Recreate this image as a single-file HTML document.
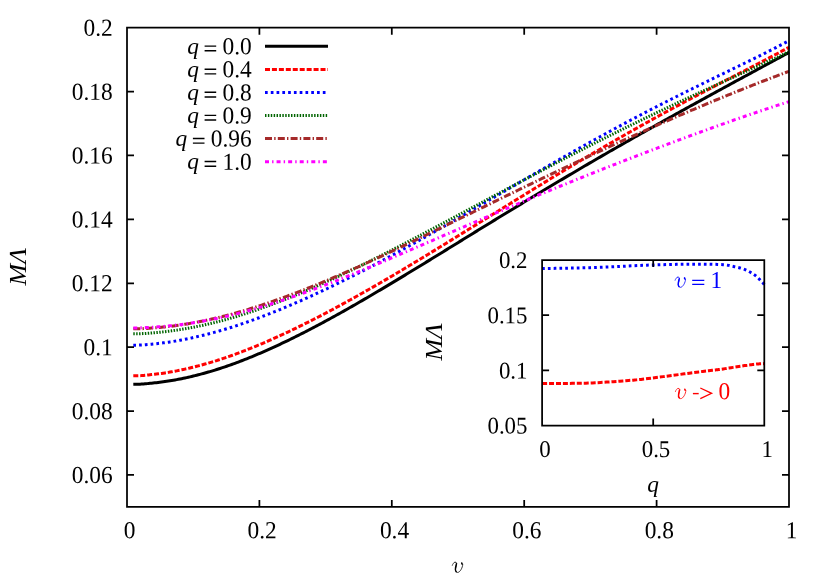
<!DOCTYPE html>
<html><head><meta charset="utf-8"><title>plot</title>
<style>html,body{margin:0;padding:0;background:#fff}svg{display:block}</style>
</head><body>
<div style="will-change:transform;width:830px;height:581px;overflow:hidden">
<svg width="830" height="581" viewBox="0 0 830 581">
<rect width="100%" height="100%" fill="#fff"/>
<g font-family="'Liberation Serif', serif" font-size="23.4" fill="#000">
<path d="M133.30,384.27 L135.34,384.26 L137.14,384.24 L138.73,384.21 L140.14,384.16 L141.43,384.10 L142.62,384.03 L143.76,383.94 L144.89,383.84 L146.04,383.74 L147.24,383.62 L148.55,383.49 L150.00,383.35 L151.55,383.20 L153.14,383.04 L154.77,382.86 L156.42,382.68 L158.10,382.48 L159.79,382.28 L161.50,382.06 L163.21,381.83 L164.92,381.59 L166.63,381.34 L168.32,381.09 L170.00,380.82 L171.67,380.54 L173.33,380.26 L175.00,379.96 L176.67,379.65 L178.33,379.33 L180.00,379.01 L181.67,378.67 L183.33,378.32 L185.00,377.97 L186.67,377.60 L188.33,377.23 L190.00,376.85 L191.67,376.46 L193.33,376.06 L195.00,375.65 L196.67,375.23 L198.33,374.80 L200.00,374.37 L201.67,373.92 L203.33,373.47 L205.00,373.00 L206.67,372.53 L208.33,372.06 L210.00,371.57 L211.67,371.08 L213.33,370.57 L215.00,370.06 L216.67,369.55 L218.33,369.02 L220.00,368.48 L221.67,367.94 L223.33,367.39 L225.00,366.83 L226.67,366.26 L228.33,365.68 L230.00,365.10 L231.67,364.51 L233.33,363.90 L235.00,363.29 L236.67,362.67 L238.33,362.04 L240.00,361.41 L241.67,360.76 L243.33,360.11 L245.00,359.46 L246.67,358.79 L248.33,358.12 L250.00,357.45 L251.67,356.77 L253.33,356.08 L255.00,355.39 L256.67,354.69 L258.33,353.98 L260.00,353.27 L261.67,352.55 L263.33,351.82 L265.00,351.09 L266.67,350.36 L268.33,349.62 L270.00,348.87 L271.67,348.12 L273.33,347.36 L275.00,346.60 L276.67,345.83 L278.33,345.05 L280.00,344.27 L281.67,343.48 L283.33,342.69 L285.00,341.90 L286.67,341.09 L288.33,340.29 L290.00,339.48 L291.67,338.67 L293.33,337.85 L295.00,337.02 L296.67,336.19 L298.33,335.36 L300.00,334.52 L301.67,333.67 L303.33,332.82 L305.00,331.97 L306.67,331.11 L308.33,330.25 L310.00,329.39 L311.67,328.52 L313.33,327.65 L315.00,326.77 L316.67,325.89 L318.33,325.01 L320.00,324.12 L321.67,323.22 L323.33,322.33 L325.00,321.43 L326.67,320.52 L328.33,319.62 L330.00,318.71 L331.67,317.80 L333.33,316.88 L335.00,315.96 L336.67,315.04 L338.33,314.11 L340.00,313.19 L341.67,312.25 L343.33,311.32 L345.00,310.38 L346.67,309.44 L348.33,308.50 L350.00,307.55 L351.67,306.60 L353.33,305.65 L355.00,304.69 L356.67,303.74 L358.33,302.78 L360.00,301.81 L361.67,300.85 L363.33,299.88 L365.00,298.91 L366.67,297.94 L368.33,296.96 L370.00,295.99 L371.67,295.01 L373.33,294.03 L375.00,293.05 L376.67,292.07 L378.33,291.08 L380.00,290.10 L381.67,289.11 L383.33,288.12 L385.00,287.12 L386.67,286.13 L388.33,285.14 L390.00,284.14 L391.67,283.14 L393.33,282.14 L395.00,281.14 L396.67,280.14 L398.33,279.13 L400.00,278.13 L401.67,277.12 L403.33,276.11 L405.00,275.10 L406.67,274.09 L408.33,273.08 L410.00,272.07 L411.67,271.06 L413.33,270.04 L415.00,269.03 L416.67,268.01 L418.33,266.99 L420.00,265.97 L421.67,264.95 L423.33,263.93 L425.00,262.91 L426.67,261.89 L428.33,260.87 L430.00,259.85 L431.67,258.83 L433.33,257.80 L435.00,256.78 L436.67,255.76 L438.33,254.73 L440.00,253.71 L441.67,252.68 L443.33,251.65 L445.00,250.63 L446.67,249.60 L448.33,248.58 L450.00,247.55 L451.67,246.52 L453.33,245.50 L455.00,244.47 L456.67,243.44 L458.33,242.42 L460.00,241.39 L461.67,240.36 L463.33,239.34 L465.00,238.31 L466.67,237.28 L468.33,236.26 L470.00,235.23 L471.67,234.20 L473.33,233.18 L475.00,232.15 L476.67,231.13 L478.33,230.10 L480.00,229.07 L481.67,228.05 L483.33,227.02 L485.00,226.00 L486.67,224.98 L488.33,223.95 L490.00,222.93 L491.67,221.91 L493.33,220.89 L495.00,219.87 L496.67,218.84 L498.33,217.82 L500.00,216.81 L501.67,215.79 L503.33,214.77 L505.00,213.75 L506.67,212.73 L508.33,211.72 L510.00,210.70 L511.67,209.68 L513.33,208.67 L515.00,207.66 L516.67,206.64 L518.33,205.63 L520.00,204.62 L521.67,203.61 L523.33,202.59 L525.00,201.58 L526.67,200.58 L528.33,199.57 L530.00,198.56 L531.67,197.55 L533.33,196.55 L535.00,195.54 L536.67,194.54 L538.33,193.54 L540.00,192.53 L541.67,191.53 L543.33,190.53 L545.00,189.53 L546.67,188.53 L548.33,187.54 L550.00,186.54 L551.67,185.54 L553.33,184.55 L555.00,183.55 L556.67,182.56 L558.33,181.57 L560.00,180.58 L561.67,179.59 L563.33,178.60 L565.00,177.61 L566.67,176.62 L568.33,175.64 L570.00,174.65 L571.67,173.67 L573.33,172.68 L575.00,171.70 L576.67,170.72 L578.33,169.74 L580.00,168.76 L581.67,167.78 L583.33,166.81 L585.00,165.83 L586.67,164.86 L588.33,163.88 L590.00,162.91 L591.67,161.94 L593.33,160.97 L595.00,160.00 L596.67,159.03 L598.33,158.06 L600.00,157.10 L601.67,156.13 L603.33,155.17 L605.00,154.20 L606.67,153.24 L608.33,152.28 L610.00,151.32 L611.67,150.36 L613.33,149.40 L615.00,148.45 L616.67,147.49 L618.33,146.54 L620.00,145.58 L621.67,144.63 L623.33,143.68 L625.00,142.73 L626.67,141.78 L628.33,140.83 L630.00,139.88 L631.67,138.93 L633.33,137.99 L635.00,137.04 L636.67,136.10 L638.33,135.15 L640.00,134.21 L641.67,133.27 L643.33,132.33 L645.00,131.39 L646.67,130.45 L648.33,129.51 L650.00,128.57 L651.67,127.63 L653.33,126.70 L655.00,125.76 L656.67,124.83 L658.33,123.89 L660.00,122.96 L661.67,122.03 L663.33,121.10 L665.00,120.17 L666.67,119.24 L668.33,118.31 L670.00,117.38 L671.67,116.45 L673.33,115.53 L675.00,114.60 L676.67,113.68 L678.33,112.75 L680.00,111.83 L681.67,110.91 L683.33,109.99 L685.00,109.07 L686.67,108.15 L688.33,107.23 L690.00,106.31 L691.67,105.39 L693.33,104.47 L695.00,103.56 L696.67,102.64 L698.33,101.72 L700.00,100.81 L701.67,99.89 L703.33,98.97 L705.00,98.06 L706.67,97.15 L708.33,96.23 L710.00,95.32 L711.67,94.41 L713.33,93.50 L715.00,92.59 L716.67,91.68 L718.33,90.77 L720.00,89.86 L721.67,88.95 L723.33,88.04 L725.00,87.13 L726.67,86.22 L728.33,85.32 L730.00,84.41 L731.67,83.50 L733.33,82.60 L735.00,81.69 L736.67,80.79 L738.33,79.88 L740.00,78.98 L741.67,78.08 L743.33,77.17 L745.00,76.27 L746.67,75.37 L748.33,74.46 L750.00,73.56 L751.67,72.66 L753.34,71.75 L755.02,70.84 L756.70,69.93 L758.38,69.02 L760.06,68.11 L761.74,67.21 L763.41,66.30 L765.07,65.40 L766.72,64.51 L768.37,63.62 L770.00,62.74 L771.62,61.87 L773.22,61.00 L774.82,60.14 L776.41,59.28 L777.99,58.43 L779.56,57.57 L781.13,56.73 L782.70,55.88 L784.27,55.03 L785.84,54.18 L787.42,53.33 L789.00,52.48" fill="none" stroke="#000000" stroke-width="3.0"/>
<path d="M133.30,375.77 L135.34,375.76 L137.14,375.74 L138.73,375.70 L140.14,375.64 L141.43,375.58 L142.62,375.49 L143.76,375.40 L144.89,375.29 L146.04,375.18 L147.24,375.05 L148.55,374.91 L150.00,374.76 L151.55,374.60 L153.14,374.43 L154.77,374.24 L156.42,374.05 L158.10,373.84 L159.79,373.62 L161.50,373.39 L163.21,373.15 L164.92,372.90 L166.63,372.64 L168.32,372.37 L170.00,372.09 L171.67,371.80 L173.33,371.50 L175.00,371.19 L176.67,370.87 L178.33,370.53 L180.00,370.19 L181.67,369.84 L183.33,369.48 L185.00,369.11 L186.67,368.74 L188.33,368.35 L190.00,367.96 L191.67,367.56 L193.33,367.15 L195.00,366.73 L196.67,366.31 L198.33,365.87 L200.00,365.43 L201.67,364.98 L203.33,364.52 L205.00,364.05 L206.67,363.57 L208.33,363.09 L210.00,362.60 L211.67,362.10 L213.33,361.60 L215.00,361.08 L216.67,360.56 L218.33,360.03 L220.00,359.50 L221.67,358.95 L223.33,358.40 L225.00,357.84 L226.67,357.28 L228.33,356.70 L230.00,356.12 L231.67,355.53 L233.33,354.93 L235.00,354.33 L236.67,353.71 L238.33,353.09 L240.00,352.46 L241.67,351.82 L243.33,351.18 L245.00,350.53 L246.67,349.88 L248.33,349.22 L250.00,348.56 L251.67,347.89 L253.33,347.22 L255.00,346.54 L256.67,345.85 L258.33,345.16 L260.00,344.46 L261.67,343.76 L263.33,343.05 L265.00,342.33 L266.67,341.61 L268.33,340.89 L270.00,340.16 L271.67,339.43 L273.33,338.69 L275.00,337.94 L276.67,337.19 L278.33,336.43 L280.00,335.67 L281.67,334.91 L283.33,334.14 L285.00,333.36 L286.67,332.58 L288.33,331.80 L290.00,331.01 L291.67,330.22 L293.33,329.42 L295.00,328.62 L296.67,327.81 L298.33,327.00 L300.00,326.19 L301.67,325.37 L303.33,324.54 L305.00,323.71 L306.67,322.88 L308.33,322.05 L310.00,321.21 L311.67,320.37 L313.33,319.52 L315.00,318.67 L316.67,317.82 L318.33,316.96 L320.00,316.09 L321.67,315.23 L323.33,314.36 L325.00,313.49 L326.67,312.61 L328.33,311.73 L330.00,310.85 L331.67,309.96 L333.33,309.08 L335.00,308.18 L336.67,307.29 L338.33,306.39 L340.00,305.49 L341.67,304.58 L343.33,303.67 L345.00,302.76 L346.67,301.85 L348.33,300.93 L350.00,300.01 L351.67,299.09 L353.33,298.16 L355.00,297.23 L356.67,296.30 L358.33,295.37 L360.00,294.43 L361.67,293.49 L363.33,292.54 L365.00,291.60 L366.67,290.65 L368.33,289.70 L370.00,288.75 L371.67,287.80 L373.33,286.84 L375.00,285.88 L376.67,284.92 L378.33,283.96 L380.00,282.99 L381.67,282.02 L383.33,281.05 L385.00,280.08 L386.67,279.10 L388.33,278.13 L390.00,277.15 L391.67,276.17 L393.33,275.19 L395.00,274.20 L396.67,273.22 L398.33,272.23 L400.00,271.24 L401.67,270.24 L403.33,269.25 L405.00,268.25 L406.67,267.26 L408.33,266.26 L410.00,265.26 L411.67,264.26 L413.33,263.26 L415.00,262.25 L416.67,261.25 L418.33,260.24 L420.00,259.23 L421.67,258.22 L423.33,257.21 L425.00,256.19 L426.67,255.18 L428.33,254.17 L430.00,253.15 L431.67,252.13 L433.33,251.12 L435.00,250.10 L436.67,249.08 L438.33,248.05 L440.00,247.03 L441.67,246.01 L443.33,244.98 L445.00,243.96 L446.67,242.93 L448.33,241.91 L450.00,240.88 L451.67,239.85 L453.33,238.82 L455.00,237.80 L456.67,236.77 L458.33,235.74 L460.00,234.70 L461.67,233.67 L463.33,232.64 L465.00,231.61 L466.67,230.58 L468.33,229.54 L470.00,228.51 L471.67,227.48 L473.33,226.44 L475.00,225.41 L476.67,224.37 L478.33,223.34 L480.00,222.30 L481.67,221.27 L483.33,220.23 L485.00,219.20 L486.67,218.16 L488.33,217.12 L490.00,216.09 L491.67,215.06 L493.33,214.02 L495.00,212.99 L496.67,211.95 L498.33,210.92 L500.00,209.88 L501.67,208.85 L503.33,207.81 L505.00,206.78 L506.67,205.74 L508.33,204.71 L510.00,203.68 L511.67,202.65 L513.33,201.62 L515.00,200.59 L516.67,199.56 L518.33,198.52 L520.00,197.50 L521.67,196.47 L523.33,195.44 L525.00,194.41 L526.67,193.38 L528.33,192.36 L530.00,191.33 L531.67,190.31 L533.33,189.28 L535.00,188.26 L536.67,187.23 L538.33,186.21 L540.00,185.19 L541.67,184.17 L543.33,183.15 L545.00,182.13 L546.67,181.11 L548.33,180.09 L550.00,179.08 L551.67,178.07 L553.33,177.05 L555.00,176.04 L556.67,175.03 L558.33,174.02 L560.00,173.01 L561.67,172.01 L563.33,171.00 L565.00,170.00 L566.67,168.99 L568.33,167.99 L570.00,166.99 L571.67,165.99 L573.33,164.99 L575.00,163.99 L576.67,163.00 L578.33,162.00 L580.00,161.01 L581.67,160.02 L583.33,159.03 L585.00,158.04 L586.67,157.05 L588.33,156.06 L590.00,155.08 L591.67,154.10 L593.33,153.12 L595.00,152.14 L596.67,151.16 L598.33,150.18 L600.00,149.21 L601.67,148.24 L603.33,147.27 L605.00,146.30 L606.67,145.33 L608.33,144.36 L610.00,143.40 L611.67,142.44 L613.33,141.48 L615.00,140.52 L616.67,139.56 L618.33,138.60 L620.00,137.65 L621.67,136.70 L623.33,135.75 L625.00,134.80 L626.67,133.85 L628.33,132.90 L630.00,131.96 L631.67,131.02 L633.33,130.08 L635.00,129.14 L636.67,128.20 L638.33,127.27 L640.00,126.33 L641.67,125.40 L643.33,124.47 L645.00,123.54 L646.67,122.62 L648.33,121.69 L650.00,120.77 L651.67,119.85 L653.33,118.93 L655.00,118.01 L656.67,117.10 L658.33,116.19 L660.00,115.28 L661.67,114.37 L663.33,113.46 L665.00,112.55 L666.67,111.65 L668.33,110.74 L670.00,109.84 L671.67,108.94 L673.33,108.04 L675.00,107.14 L676.67,106.25 L678.33,105.35 L680.00,104.46 L681.67,103.57 L683.33,102.68 L685.00,101.79 L686.67,100.90 L688.33,100.02 L690.00,99.13 L691.67,98.25 L693.33,97.36 L695.00,96.48 L696.67,95.60 L698.33,94.73 L700.00,93.85 L701.67,92.97 L703.33,92.10 L705.00,91.23 L706.67,90.35 L708.33,89.48 L710.00,88.61 L711.67,87.74 L713.33,86.87 L715.00,86.00 L716.67,85.14 L718.33,84.27 L720.00,83.40 L721.67,82.54 L723.33,81.68 L725.00,80.81 L726.67,79.95 L728.33,79.08 L730.00,78.22 L731.67,77.36 L733.33,76.49 L735.00,75.63 L736.67,74.77 L738.33,73.91 L740.00,73.05 L741.67,72.19 L743.33,71.32 L745.00,70.46 L746.67,69.60 L748.33,68.73 L750.00,67.87 L751.67,67.00 L753.34,66.13 L755.02,65.26 L756.70,64.39 L758.38,63.52 L760.06,62.65 L761.74,61.77 L763.41,60.90 L765.07,60.04 L766.72,59.17 L768.37,58.31 L770.00,57.45 L771.62,56.60 L773.22,55.75 L774.82,54.90 L776.41,54.05 L777.99,53.21 L779.56,52.37 L781.13,51.53 L782.70,50.69 L784.27,49.85 L785.84,49.01 L787.42,48.17 L789.00,47.33" fill="none" stroke="#ff0000" stroke-width="3.0" stroke-dasharray="5,1.94"/>
<path d="M133.30,345.17 L135.34,345.16 L137.14,345.14 L138.73,345.11 L140.14,345.06 L141.43,345.00 L142.62,344.93 L143.76,344.85 L144.89,344.75 L146.04,344.65 L147.24,344.53 L148.55,344.41 L150.00,344.28 L151.55,344.14 L153.14,343.99 L154.77,343.82 L156.42,343.65 L158.10,343.46 L159.79,343.27 L161.50,343.06 L163.21,342.85 L164.92,342.63 L166.63,342.40 L168.32,342.16 L170.00,341.91 L171.67,341.65 L173.33,341.39 L175.00,341.11 L176.67,340.83 L178.33,340.54 L180.00,340.23 L181.67,339.92 L183.33,339.61 L185.00,339.28 L186.67,338.95 L188.33,338.61 L190.00,338.26 L191.67,337.91 L193.33,337.54 L195.00,337.17 L196.67,336.79 L198.33,336.41 L200.00,336.02 L201.67,335.62 L203.33,335.21 L205.00,334.79 L206.67,334.37 L208.33,333.94 L210.00,333.51 L211.67,333.07 L213.33,332.62 L215.00,332.17 L216.67,331.71 L218.33,331.24 L220.00,330.76 L221.67,330.28 L223.33,329.79 L225.00,329.30 L226.67,328.80 L228.33,328.29 L230.00,327.77 L231.67,327.25 L233.33,326.71 L235.00,326.18 L236.67,325.63 L238.33,325.08 L240.00,324.52 L241.67,323.95 L243.33,323.38 L245.00,322.80 L246.67,322.22 L248.33,321.63 L250.00,321.04 L251.67,320.44 L253.33,319.84 L255.00,319.23 L256.67,318.62 L258.33,318.00 L260.00,317.38 L261.67,316.75 L263.33,316.11 L265.00,315.47 L266.67,314.83 L268.33,314.18 L270.00,313.53 L271.67,312.87 L273.33,312.21 L275.00,311.54 L276.67,310.87 L278.33,310.20 L280.00,309.52 L281.67,308.83 L283.33,308.14 L285.00,307.45 L286.67,306.75 L288.33,306.05 L290.00,305.34 L291.67,304.63 L293.33,303.91 L295.00,303.20 L296.67,302.47 L298.33,301.74 L300.00,301.01 L301.67,300.28 L303.33,299.54 L305.00,298.79 L306.67,298.05 L308.33,297.29 L310.00,296.54 L311.67,295.78 L313.33,295.02 L315.00,294.25 L316.67,293.48 L318.33,292.71 L320.00,291.93 L321.67,291.15 L323.33,290.36 L325.00,289.57 L326.67,288.78 L328.33,287.99 L330.00,287.19 L331.67,286.39 L333.33,285.58 L335.00,284.77 L336.67,283.96 L338.33,283.15 L340.00,282.33 L341.67,281.51 L343.33,280.68 L345.00,279.85 L346.67,279.02 L348.33,278.19 L350.00,277.35 L351.67,276.51 L353.33,275.67 L355.00,274.82 L356.67,273.97 L358.33,273.12 L360.00,272.26 L361.67,271.41 L363.33,270.55 L365.00,269.68 L366.67,268.82 L368.33,267.95 L370.00,267.08 L371.67,266.21 L373.33,265.33 L375.00,264.46 L376.67,263.58 L378.33,262.69 L380.00,261.81 L381.67,260.92 L383.33,260.03 L385.00,259.14 L386.67,258.24 L388.33,257.35 L390.00,256.45 L391.67,255.55 L393.33,254.65 L395.00,253.74 L396.67,252.83 L398.33,251.92 L400.00,251.01 L401.67,250.09 L403.33,249.17 L405.00,248.26 L406.67,247.33 L408.33,246.41 L410.00,245.49 L411.67,244.57 L413.33,243.64 L415.00,242.71 L416.67,241.78 L418.33,240.85 L420.00,239.91 L421.67,238.98 L423.33,238.04 L425.00,237.10 L426.67,236.16 L428.33,235.22 L430.00,234.28 L431.67,233.34 L433.33,232.39 L435.00,231.45 L436.67,230.50 L438.33,229.55 L440.00,228.60 L441.67,227.64 L443.33,226.69 L445.00,225.74 L446.67,224.78 L448.33,223.83 L450.00,222.87 L451.67,221.91 L453.33,220.95 L455.00,219.99 L456.67,219.03 L458.33,218.07 L460.00,217.10 L461.67,216.14 L463.33,215.17 L465.00,214.21 L466.67,213.24 L468.33,212.28 L470.00,211.31 L471.67,210.34 L473.33,209.37 L475.00,208.41 L476.67,207.44 L478.33,206.47 L480.00,205.50 L481.67,204.53 L483.33,203.55 L485.00,202.58 L486.67,201.61 L488.33,200.64 L490.00,199.67 L491.67,198.70 L493.33,197.73 L495.00,196.76 L496.67,195.78 L498.33,194.81 L500.00,193.84 L501.67,192.87 L503.33,191.90 L505.00,190.92 L506.67,189.95 L508.33,188.98 L510.00,188.01 L511.67,187.04 L513.33,186.07 L515.00,185.10 L516.67,184.13 L518.33,183.16 L520.00,182.19 L521.67,181.22 L523.33,180.25 L525.00,179.28 L526.67,178.31 L528.33,177.35 L530.00,176.38 L531.67,175.41 L533.33,174.45 L535.00,173.49 L536.67,172.52 L538.33,171.56 L540.00,170.60 L541.67,169.63 L543.33,168.67 L545.00,167.71 L546.67,166.75 L548.33,165.80 L550.00,164.84 L551.67,163.88 L553.33,162.93 L555.00,161.98 L556.67,161.02 L558.33,160.07 L560.00,159.12 L561.67,158.17 L563.33,157.22 L565.00,156.27 L566.67,155.33 L568.33,154.38 L570.00,153.44 L571.67,152.50 L573.33,151.56 L575.00,150.62 L576.67,149.68 L578.33,148.74 L580.00,147.81 L581.67,146.87 L583.33,145.94 L585.00,145.01 L586.67,144.08 L588.33,143.16 L590.00,142.23 L591.67,141.31 L593.33,140.38 L595.00,139.46 L596.67,138.54 L598.33,137.63 L600.00,136.71 L601.67,135.80 L603.33,134.88 L605.00,133.97 L606.67,133.06 L608.33,132.16 L610.00,131.25 L611.67,130.35 L613.33,129.44 L615.00,128.54 L616.67,127.64 L618.33,126.74 L620.00,125.85 L621.67,124.95 L623.33,124.06 L625.00,123.17 L626.67,122.28 L628.33,121.39 L630.00,120.51 L631.67,119.63 L633.33,118.75 L635.00,117.87 L636.67,116.99 L638.33,116.12 L640.00,115.24 L641.67,114.37 L643.33,113.50 L645.00,112.63 L646.67,111.77 L648.33,110.90 L650.00,110.04 L651.67,109.18 L653.33,108.32 L655.00,107.46 L656.67,106.61 L658.33,105.76 L660.00,104.91 L661.67,104.06 L663.33,103.21 L665.00,102.36 L666.67,101.52 L668.33,100.67 L670.00,99.83 L671.67,98.99 L673.33,98.15 L675.00,97.31 L676.67,96.48 L678.33,95.64 L680.00,94.81 L681.67,93.98 L683.33,93.15 L685.00,92.32 L686.67,91.49 L688.33,90.67 L690.00,89.84 L691.67,89.02 L693.33,88.19 L695.00,87.37 L696.67,86.55 L698.33,85.73 L700.00,84.91 L701.67,84.10 L703.33,83.28 L705.00,82.46 L706.67,81.65 L708.33,80.83 L710.00,80.02 L711.67,79.21 L713.33,78.39 L715.00,77.58 L716.67,76.77 L718.33,75.96 L720.00,75.16 L721.67,74.35 L723.33,73.54 L725.00,72.73 L726.67,71.92 L728.33,71.11 L730.00,70.30 L731.67,69.49 L733.33,68.68 L735.00,67.87 L736.67,67.06 L738.33,66.25 L740.00,65.43 L741.67,64.62 L743.33,63.81 L745.00,62.99 L746.67,62.18 L748.33,61.36 L750.00,60.54 L751.67,59.72 L753.34,58.89 L755.02,58.06 L756.70,57.23 L758.38,56.40 L760.06,55.57 L761.74,54.74 L763.41,53.90 L765.07,53.07 L766.72,52.24 L768.37,51.42 L770.00,50.59 L771.62,49.77 L773.22,48.94 L774.82,48.12 L776.41,47.30 L777.99,46.49 L779.56,45.67 L781.13,44.85 L782.70,44.03 L784.27,43.21 L785.84,42.40 L787.42,41.58 L789.00,40.76" fill="none" stroke="#0000ff" stroke-width="3.0" stroke-dasharray="2.7,3.08"/>
<path d="M133.30,333.81 L135.34,333.80 L137.14,333.79 L138.73,333.76 L140.14,333.72 L141.43,333.68 L142.62,333.62 L143.76,333.56 L144.89,333.48 L146.04,333.40 L147.24,333.30 L148.55,333.20 L150.00,333.09 L151.55,332.97 L153.14,332.84 L154.77,332.70 L156.42,332.56 L158.10,332.40 L159.79,332.23 L161.50,332.06 L163.21,331.88 L164.92,331.69 L166.63,331.49 L168.32,331.28 L170.00,331.07 L171.67,330.85 L173.33,330.62 L175.00,330.38 L176.67,330.13 L178.33,329.88 L180.00,329.61 L181.67,329.34 L183.33,329.06 L185.00,328.78 L186.67,328.49 L188.33,328.19 L190.00,327.88 L191.67,327.57 L193.33,327.25 L195.00,326.92 L196.67,326.58 L198.33,326.24 L200.00,325.89 L201.67,325.53 L203.33,325.17 L205.00,324.79 L206.67,324.42 L208.33,324.03 L210.00,323.64 L211.67,323.24 L213.33,322.84 L215.00,322.43 L216.67,322.01 L218.33,321.58 L220.00,321.15 L221.67,320.71 L223.33,320.26 L225.00,319.81 L226.67,319.35 L228.33,318.88 L230.00,318.41 L231.67,317.93 L233.33,317.44 L235.00,316.94 L236.67,316.44 L238.33,315.93 L240.00,315.41 L241.67,314.88 L243.33,314.35 L245.00,313.82 L246.67,313.28 L248.33,312.73 L250.00,312.18 L251.67,311.62 L253.33,311.06 L255.00,310.50 L256.67,309.92 L258.33,309.35 L260.00,308.76 L261.67,308.18 L263.33,307.58 L265.00,306.98 L266.67,306.38 L268.33,305.77 L270.00,305.16 L271.67,304.54 L273.33,303.92 L275.00,303.29 L276.67,302.66 L278.33,302.02 L280.00,301.38 L281.67,300.73 L283.33,300.08 L285.00,299.42 L286.67,298.76 L288.33,298.10 L290.00,297.43 L291.67,296.76 L293.33,296.08 L295.00,295.40 L296.67,294.71 L298.33,294.02 L300.00,293.33 L301.67,292.63 L303.33,291.93 L305.00,291.22 L306.67,290.51 L308.33,289.80 L310.00,289.08 L311.67,288.36 L313.33,287.64 L315.00,286.91 L316.67,286.17 L318.33,285.44 L320.00,284.70 L321.67,283.95 L323.33,283.21 L325.00,282.46 L326.67,281.71 L328.33,280.95 L330.00,280.19 L331.67,279.43 L333.33,278.66 L335.00,277.89 L336.67,277.12 L338.33,276.34 L340.00,275.56 L341.67,274.78 L343.33,274.00 L345.00,273.21 L346.67,272.42 L348.33,271.63 L350.00,270.83 L351.67,270.03 L353.33,269.23 L355.00,268.43 L356.67,267.62 L358.33,266.81 L360.00,266.00 L361.67,265.18 L363.33,264.37 L365.00,263.55 L366.67,262.73 L368.33,261.90 L370.00,261.08 L371.67,260.25 L373.33,259.42 L375.00,258.59 L376.67,257.76 L378.33,256.92 L380.00,256.08 L381.67,255.24 L383.33,254.40 L385.00,253.55 L386.67,252.71 L388.33,251.86 L390.00,251.01 L391.67,250.16 L393.33,249.31 L395.00,248.45 L396.67,247.60 L398.33,246.74 L400.00,245.88 L401.67,245.02 L403.33,244.15 L405.00,243.29 L406.67,242.42 L408.33,241.56 L410.00,240.69 L411.67,239.82 L413.33,238.95 L415.00,238.08 L416.67,237.20 L418.33,236.33 L420.00,235.45 L421.67,234.57 L423.33,233.69 L425.00,232.81 L426.67,231.93 L428.33,231.05 L430.00,230.17 L431.67,229.29 L433.33,228.40 L435.00,227.52 L436.67,226.63 L438.33,225.75 L440.00,224.86 L441.67,223.97 L443.33,223.09 L445.00,222.20 L446.67,221.31 L448.33,220.42 L450.00,219.53 L451.67,218.64 L453.33,217.75 L455.00,216.86 L456.67,215.97 L458.33,215.07 L460.00,214.18 L461.67,213.29 L463.33,212.39 L465.00,211.50 L466.67,210.61 L468.33,209.71 L470.00,208.82 L471.67,207.93 L473.33,207.03 L475.00,206.14 L476.67,205.24 L478.33,204.35 L480.00,203.45 L481.67,202.56 L483.33,201.67 L485.00,200.77 L486.67,199.88 L488.33,198.98 L490.00,198.09 L491.67,197.20 L493.33,196.30 L495.00,195.41 L496.67,194.52 L498.33,193.62 L500.00,192.73 L501.67,191.84 L503.33,190.94 L505.00,190.05 L506.67,189.16 L508.33,188.27 L510.00,187.38 L511.67,186.49 L513.33,185.60 L515.00,184.71 L516.67,183.82 L518.33,182.94 L520.00,182.05 L521.67,181.16 L523.33,180.28 L525.00,179.39 L526.67,178.51 L528.33,177.62 L530.00,176.74 L531.67,175.86 L533.33,174.98 L535.00,174.09 L536.67,173.21 L538.33,172.33 L540.00,171.45 L541.67,170.58 L543.33,169.70 L545.00,168.82 L546.67,167.95 L548.33,167.07 L550.00,166.20 L551.67,165.33 L553.33,164.46 L555.00,163.59 L556.67,162.72 L558.33,161.85 L560.00,160.98 L561.67,160.11 L563.33,159.25 L565.00,158.39 L566.67,157.52 L568.33,156.66 L570.00,155.80 L571.67,154.94 L573.33,154.08 L575.00,153.22 L576.67,152.37 L578.33,151.51 L580.00,150.66 L581.67,149.81 L583.33,148.95 L585.00,148.10 L586.67,147.25 L588.33,146.41 L590.00,145.56 L591.67,144.71 L593.33,143.87 L595.00,143.03 L596.67,142.18 L598.33,141.34 L600.00,140.50 L601.67,139.66 L603.33,138.83 L605.00,137.99 L606.67,137.16 L608.33,136.32 L610.00,135.49 L611.67,134.66 L613.33,133.83 L615.00,133.00 L616.67,132.18 L618.33,131.35 L620.00,130.53 L621.67,129.70 L623.33,128.88 L625.00,128.06 L626.67,127.24 L628.33,126.43 L630.00,125.61 L631.67,124.79 L633.33,123.98 L635.00,123.17 L636.67,122.36 L638.33,121.55 L640.00,120.74 L641.67,119.93 L643.33,119.12 L645.00,118.32 L646.67,117.51 L648.33,116.71 L650.00,115.91 L651.67,115.11 L653.33,114.31 L655.00,113.51 L656.67,112.72 L658.33,111.92 L660.00,111.13 L661.67,110.34 L663.33,109.54 L665.00,108.75 L666.67,107.97 L668.33,107.18 L670.00,106.39 L671.67,105.60 L673.33,104.82 L675.00,104.04 L676.67,103.25 L678.33,102.47 L680.00,101.69 L681.67,100.91 L683.33,100.13 L685.00,99.36 L686.67,98.58 L688.33,97.80 L690.00,97.03 L691.67,96.26 L693.33,95.48 L695.00,94.71 L696.67,93.94 L698.33,93.17 L700.00,92.40 L701.67,91.63 L703.33,90.87 L705.00,90.10 L706.67,89.33 L708.33,88.57 L710.00,87.80 L711.67,87.04 L713.33,86.27 L715.00,85.51 L716.67,84.74 L718.33,83.98 L720.00,83.22 L721.67,82.46 L723.33,81.70 L725.00,80.94 L726.67,80.18 L728.33,79.42 L730.00,78.66 L731.67,77.90 L733.33,77.14 L735.00,76.38 L736.67,75.63 L738.33,74.87 L740.00,74.11 L741.67,73.36 L743.33,72.60 L745.00,71.84 L746.67,71.09 L748.33,70.33 L750.00,69.57 L751.67,68.81 L753.34,68.05 L755.02,67.29 L756.70,66.52 L758.38,65.76 L760.06,64.99 L761.74,64.23 L763.41,63.47 L765.07,62.71 L766.72,61.96 L768.37,61.21 L770.00,60.46 L771.62,59.72 L773.22,58.98 L774.82,58.25 L776.41,57.52 L777.99,56.79 L779.56,56.06 L781.13,55.34 L782.70,54.61 L784.27,53.89 L785.84,53.16 L787.42,52.44 L789.00,51.71" fill="none" stroke="#006400" stroke-width="3.0" stroke-dasharray="1.45,1.44"/>
<path d="M133.30,328.85 L135.34,328.85 L137.14,328.83 L138.73,328.81 L140.14,328.77 L141.43,328.73 L142.62,328.68 L143.76,328.62 L144.89,328.55 L146.04,328.47 L147.24,328.38 L148.55,328.29 L150.00,328.19 L151.55,328.08 L153.14,327.96 L154.77,327.84 L156.42,327.70 L158.10,327.56 L159.79,327.41 L161.50,327.25 L163.21,327.08 L164.92,326.91 L166.63,326.73 L168.32,326.54 L170.00,326.34 L171.67,326.14 L173.33,325.92 L175.00,325.70 L176.67,325.47 L178.33,325.24 L180.00,325.00 L181.67,324.75 L183.33,324.49 L185.00,324.22 L186.67,323.95 L188.33,323.67 L190.00,323.39 L191.67,323.10 L193.33,322.80 L195.00,322.50 L196.67,322.18 L198.33,321.86 L200.00,321.54 L201.67,321.21 L203.33,320.87 L205.00,320.52 L206.67,320.17 L208.33,319.81 L210.00,319.45 L211.67,319.08 L213.33,318.71 L215.00,318.32 L216.67,317.94 L218.33,317.54 L220.00,317.14 L221.67,316.73 L223.33,316.32 L225.00,315.90 L226.67,315.47 L228.33,315.04 L230.00,314.60 L231.67,314.15 L233.33,313.70 L235.00,313.23 L236.67,312.76 L238.33,312.29 L240.00,311.81 L241.67,311.32 L243.33,310.82 L245.00,310.32 L246.67,309.82 L248.33,309.31 L250.00,308.80 L251.67,308.28 L253.33,307.76 L255.00,307.23 L256.67,306.70 L258.33,306.16 L260.00,305.62 L261.67,305.07 L263.33,304.51 L265.00,303.96 L266.67,303.40 L268.33,302.83 L270.00,302.26 L271.67,301.69 L273.33,301.11 L275.00,300.52 L276.67,299.93 L278.33,299.34 L280.00,298.75 L281.67,298.14 L283.33,297.54 L285.00,296.93 L286.67,296.32 L288.33,295.70 L290.00,295.08 L291.67,294.46 L293.33,293.83 L295.00,293.20 L296.67,292.56 L298.33,291.92 L300.00,291.28 L301.67,290.63 L303.33,289.98 L305.00,289.32 L306.67,288.67 L308.33,288.00 L310.00,287.34 L311.67,286.67 L313.33,286.00 L315.00,285.32 L316.67,284.65 L318.33,283.96 L320.00,283.28 L321.67,282.59 L323.33,281.89 L325.00,281.20 L326.67,280.50 L328.33,279.80 L330.00,279.10 L331.67,278.40 L333.33,277.69 L335.00,276.98 L336.67,276.26 L338.33,275.55 L340.00,274.83 L341.67,274.10 L343.33,273.38 L345.00,272.65 L346.67,271.92 L348.33,271.19 L350.00,270.46 L351.67,269.72 L353.33,268.99 L355.00,268.25 L356.67,267.50 L358.33,266.76 L360.00,266.01 L361.67,265.26 L363.33,264.51 L365.00,263.75 L366.67,263.00 L368.33,262.24 L370.00,261.48 L371.67,260.72 L373.33,259.96 L375.00,259.19 L376.67,258.42 L378.33,257.65 L380.00,256.88 L381.67,256.11 L383.33,255.33 L385.00,254.56 L386.67,253.78 L388.33,253.00 L390.00,252.22 L391.67,251.44 L393.33,250.66 L395.00,249.87 L396.67,249.08 L398.33,248.30 L400.00,247.51 L401.67,246.72 L403.33,245.93 L405.00,245.13 L406.67,244.34 L408.33,243.55 L410.00,242.75 L411.67,241.95 L413.33,241.16 L415.00,240.36 L416.67,239.56 L418.33,238.76 L420.00,237.96 L421.67,237.15 L423.33,236.35 L425.00,235.55 L426.67,234.74 L428.33,233.94 L430.00,233.13 L431.67,232.32 L433.33,231.52 L435.00,230.71 L436.67,229.90 L438.33,229.09 L440.00,228.28 L441.67,227.47 L443.33,226.66 L445.00,225.85 L446.67,225.03 L448.33,224.22 L450.00,223.41 L451.67,222.60 L453.33,221.78 L455.00,220.97 L456.67,220.15 L458.33,219.34 L460.00,218.52 L461.67,217.71 L463.33,216.89 L465.00,216.08 L466.67,215.26 L468.33,214.45 L470.00,213.63 L471.67,212.81 L473.33,212.00 L475.00,211.18 L476.67,210.37 L478.33,209.55 L480.00,208.73 L481.67,207.92 L483.33,207.10 L485.00,206.29 L486.67,205.47 L488.33,204.66 L490.00,203.84 L491.67,203.02 L493.33,202.21 L495.00,201.39 L496.67,200.58 L498.33,199.77 L500.00,198.95 L501.67,198.14 L503.33,197.32 L505.00,196.51 L506.67,195.70 L508.33,194.88 L510.00,194.07 L511.67,193.26 L513.33,192.45 L515.00,191.63 L516.67,190.82 L518.33,190.01 L520.00,189.20 L521.67,188.39 L523.33,187.58 L525.00,186.77 L526.67,185.96 L528.33,185.16 L530.00,184.35 L531.67,183.54 L533.33,182.74 L535.00,181.93 L536.67,181.13 L538.33,180.32 L540.00,179.52 L541.67,178.71 L543.33,177.91 L545.00,177.11 L546.67,176.31 L548.33,175.51 L550.00,174.71 L551.67,173.91 L553.33,173.11 L555.00,172.32 L556.67,171.52 L558.33,170.73 L560.00,169.93 L561.67,169.14 L563.33,168.34 L565.00,167.55 L566.67,166.76 L568.33,165.97 L570.00,165.18 L571.67,164.39 L573.33,163.60 L575.00,162.81 L576.67,162.03 L578.33,161.24 L580.00,160.45 L581.67,159.67 L583.33,158.89 L585.00,158.10 L586.67,157.32 L588.33,156.54 L590.00,155.76 L591.67,154.98 L593.33,154.20 L595.00,153.43 L596.67,152.65 L598.33,151.88 L600.00,151.10 L601.67,150.33 L603.33,149.56 L605.00,148.79 L606.67,148.02 L608.33,147.25 L610.00,146.48 L611.67,145.71 L613.33,144.95 L615.00,144.18 L616.67,143.42 L618.33,142.66 L620.00,141.90 L621.67,141.14 L623.33,140.38 L625.00,139.62 L626.67,138.86 L628.33,138.10 L630.00,137.35 L631.67,136.60 L633.33,135.84 L635.00,135.09 L636.67,134.34 L638.33,133.59 L640.00,132.84 L641.67,132.10 L643.33,131.35 L645.00,130.61 L646.67,129.86 L648.33,129.12 L650.00,128.38 L651.67,127.64 L653.33,126.90 L655.00,126.16 L656.67,125.43 L658.33,124.69 L660.00,123.96 L661.67,123.23 L663.33,122.49 L665.00,121.76 L666.67,121.03 L668.33,120.31 L670.00,119.58 L671.67,118.85 L673.33,118.13 L675.00,117.41 L676.67,116.68 L678.33,115.96 L680.00,115.24 L681.67,114.52 L683.33,113.81 L685.00,113.09 L686.67,112.37 L688.33,111.66 L690.00,110.95 L691.67,110.24 L693.33,109.53 L695.00,108.82 L696.67,108.12 L698.33,107.41 L700.00,106.71 L701.67,106.01 L703.33,105.31 L705.00,104.61 L706.67,103.91 L708.33,103.22 L710.00,102.52 L711.67,101.83 L713.33,101.13 L715.00,100.44 L716.67,99.75 L718.33,99.06 L720.00,98.37 L721.67,97.69 L723.33,97.00 L725.00,96.32 L726.67,95.64 L728.33,94.96 L730.00,94.28 L731.67,93.60 L733.33,92.93 L735.00,92.25 L736.67,91.58 L738.33,90.91 L740.00,90.24 L741.67,89.57 L743.33,88.91 L745.00,88.24 L746.67,87.58 L748.33,86.92 L750.00,86.26 L751.67,85.60 L753.34,84.94 L755.02,84.28 L756.70,83.62 L758.38,82.97 L760.06,82.31 L761.74,81.66 L763.41,81.01 L765.07,80.37 L766.72,79.73 L768.37,79.10 L770.00,78.47 L771.62,77.85 L773.22,77.24 L774.82,76.63 L776.41,76.03 L777.99,75.44 L779.56,74.85 L781.13,74.26 L782.70,73.67 L784.27,73.08 L785.84,72.49 L787.42,71.90 L789.00,71.30" fill="none" stroke="#a52a2a" stroke-width="3.0" stroke-dasharray="7,2.2,1.4,2.2"/>
<path d="M133.30,327.90 L135.34,327.90 L137.14,327.88 L138.73,327.87 L140.14,327.84 L141.43,327.81 L142.62,327.77 L143.76,327.72 L144.89,327.66 L146.04,327.60 L147.24,327.53 L148.55,327.45 L150.00,327.37 L151.55,327.28 L153.14,327.18 L154.77,327.08 L156.42,326.96 L158.10,326.84 L159.79,326.72 L161.50,326.58 L163.21,326.44 L164.92,326.29 L166.63,326.14 L168.32,325.98 L170.00,325.81 L171.67,325.64 L173.33,325.45 L175.00,325.27 L176.67,325.07 L178.33,324.87 L180.00,324.66 L181.67,324.44 L183.33,324.22 L185.00,323.99 L186.67,323.76 L188.33,323.52 L190.00,323.27 L191.67,323.02 L193.33,322.76 L195.00,322.49 L196.67,322.22 L198.33,321.94 L200.00,321.65 L201.67,321.36 L203.33,321.06 L205.00,320.76 L206.67,320.45 L208.33,320.13 L210.00,319.81 L211.67,319.48 L213.33,319.15 L215.00,318.81 L216.67,318.46 L218.33,318.11 L220.00,317.76 L221.67,317.39 L223.33,317.02 L225.00,316.65 L226.67,316.26 L228.33,315.88 L230.00,315.48 L231.67,315.08 L233.33,314.67 L235.00,314.25 L236.67,313.83 L238.33,313.40 L240.00,312.97 L241.67,312.52 L243.33,312.08 L245.00,311.63 L246.67,311.17 L248.33,310.71 L250.00,310.25 L251.67,309.78 L253.33,309.31 L255.00,308.83 L256.67,308.35 L258.33,307.86 L260.00,307.37 L261.67,306.87 L263.33,306.37 L265.00,305.86 L266.67,305.35 L268.33,304.84 L270.00,304.32 L271.67,303.80 L273.33,303.27 L275.00,302.74 L276.67,302.20 L278.33,301.66 L280.00,301.11 L281.67,300.56 L283.33,300.01 L285.00,299.45 L286.67,298.89 L288.33,298.33 L290.00,297.76 L291.67,297.19 L293.33,296.62 L295.00,296.04 L296.67,295.46 L298.33,294.87 L300.00,294.28 L301.67,293.69 L303.33,293.09 L305.00,292.49 L306.67,291.89 L308.33,291.29 L310.00,290.68 L311.67,290.07 L313.33,289.45 L315.00,288.84 L316.67,288.21 L318.33,287.59 L320.00,286.96 L321.67,286.33 L323.33,285.70 L325.00,285.06 L326.67,284.42 L328.33,283.78 L330.00,283.14 L331.67,282.50 L333.33,281.85 L335.00,281.20 L336.67,280.54 L338.33,279.89 L340.00,279.23 L341.67,278.57 L343.33,277.91 L345.00,277.24 L346.67,276.58 L348.33,275.91 L350.00,275.24 L351.67,274.57 L353.33,273.89 L355.00,273.22 L356.67,272.54 L358.33,271.86 L360.00,271.18 L361.67,270.49 L363.33,269.81 L365.00,269.12 L366.67,268.43 L368.33,267.74 L370.00,267.05 L371.67,266.36 L373.33,265.66 L375.00,264.97 L376.67,264.27 L378.33,263.57 L380.00,262.87 L381.67,262.17 L383.33,261.47 L385.00,260.76 L386.67,260.06 L388.33,259.36 L390.00,258.65 L391.67,257.94 L393.33,257.24 L395.00,256.53 L396.67,255.82 L398.33,255.11 L400.00,254.39 L401.67,253.68 L403.33,252.97 L405.00,252.25 L406.67,251.54 L408.33,250.83 L410.00,250.11 L411.67,249.39 L413.33,248.68 L415.00,247.96 L416.67,247.24 L418.33,246.52 L420.00,245.80 L421.67,245.08 L423.33,244.36 L425.00,243.64 L426.67,242.92 L428.33,242.20 L430.00,241.48 L431.67,240.76 L433.33,240.04 L435.00,239.32 L436.67,238.60 L438.33,237.87 L440.00,237.15 L441.67,236.43 L443.33,235.71 L445.00,234.99 L446.67,234.26 L448.33,233.54 L450.00,232.82 L451.67,232.10 L453.33,231.38 L455.00,230.66 L456.67,229.93 L458.33,229.21 L460.00,228.49 L461.67,227.77 L463.33,227.05 L465.00,226.33 L466.67,225.61 L468.33,224.89 L470.00,224.17 L471.67,223.45 L473.33,222.73 L475.00,222.02 L476.67,221.30 L478.33,220.58 L480.00,219.87 L481.67,219.15 L483.33,218.44 L485.00,217.72 L486.67,217.01 L488.33,216.29 L490.00,215.58 L491.67,214.87 L493.33,214.16 L495.00,213.44 L496.67,212.73 L498.33,212.02 L500.00,211.31 L501.67,210.60 L503.33,209.90 L505.00,209.19 L506.67,208.48 L508.33,207.78 L510.00,207.07 L511.67,206.37 L513.33,205.66 L515.00,204.96 L516.67,204.26 L518.33,203.55 L520.00,202.85 L521.67,202.15 L523.33,201.45 L525.00,200.75 L526.67,200.05 L528.33,199.36 L530.00,198.66 L531.67,197.96 L533.33,197.27 L535.00,196.57 L536.67,195.88 L538.33,195.19 L540.00,194.49 L541.67,193.80 L543.33,193.11 L545.00,192.42 L546.67,191.73 L548.33,191.05 L550.00,190.36 L551.67,189.67 L553.33,188.99 L555.00,188.31 L556.67,187.63 L558.33,186.94 L560.00,186.26 L561.67,185.58 L563.33,184.91 L565.00,184.23 L566.67,183.55 L568.33,182.88 L570.00,182.20 L571.67,181.53 L573.33,180.85 L575.00,180.18 L576.67,179.51 L578.33,178.83 L580.00,178.16 L581.67,177.49 L583.33,176.83 L585.00,176.16 L586.67,175.49 L588.33,174.82 L590.00,174.16 L591.67,173.50 L593.33,172.83 L595.00,172.17 L596.67,171.51 L598.33,170.85 L600.00,170.19 L601.67,169.54 L603.33,168.88 L605.00,168.22 L606.67,167.57 L608.33,166.91 L610.00,166.26 L611.67,165.61 L613.33,164.95 L615.00,164.30 L616.67,163.65 L618.33,163.00 L620.00,162.35 L621.67,161.71 L623.33,161.06 L625.00,160.41 L626.67,159.77 L628.33,159.12 L630.00,158.48 L631.67,157.84 L633.33,157.19 L635.00,156.55 L636.67,155.91 L638.33,155.27 L640.00,154.63 L641.67,154.00 L643.33,153.36 L645.00,152.72 L646.67,152.09 L648.33,151.45 L650.00,150.82 L651.67,150.19 L653.33,149.56 L655.00,148.93 L656.67,148.30 L658.33,147.67 L660.00,147.04 L661.67,146.41 L663.33,145.79 L665.00,145.16 L666.67,144.54 L668.33,143.91 L670.00,143.29 L671.67,142.67 L673.33,142.05 L675.00,141.42 L676.67,140.80 L678.33,140.18 L680.00,139.56 L681.67,138.95 L683.33,138.33 L685.00,137.71 L686.67,137.10 L688.33,136.48 L690.00,135.87 L691.67,135.26 L693.33,134.65 L695.00,134.04 L696.67,133.43 L698.33,132.82 L700.00,132.22 L701.67,131.61 L703.33,131.01 L705.00,130.40 L706.67,129.80 L708.33,129.20 L710.00,128.60 L711.67,128.00 L713.33,127.40 L715.00,126.80 L716.67,126.20 L718.33,125.61 L720.00,125.01 L721.67,124.41 L723.33,123.82 L725.00,123.23 L726.67,122.64 L728.33,122.05 L730.00,121.46 L731.67,120.87 L733.33,120.29 L735.00,119.70 L736.67,119.12 L738.33,118.54 L740.00,117.96 L741.67,117.38 L743.33,116.80 L745.00,116.23 L746.67,115.65 L748.33,115.08 L750.00,114.51 L751.67,113.94 L753.34,113.37 L755.02,112.80 L756.70,112.23 L758.38,111.66 L760.06,111.09 L761.74,110.52 L763.41,109.96 L765.07,109.41 L766.72,108.86 L768.37,108.31 L770.00,107.77 L771.62,107.24 L773.22,106.71 L774.82,106.19 L776.41,105.68 L777.99,105.17 L779.56,104.67 L781.13,104.16 L782.70,103.66 L784.27,103.16 L785.84,102.65 L787.42,102.15 L789.00,101.64" fill="none" stroke="#ff00ff" stroke-width="3.0" stroke-dasharray="4,3.1,1.4,3.07"/>
<rect x="542.1" y="260.0" width="222.19999999999993" height="165.5" fill="#fff"/>
<path d="M542.10,268.60 L546.50,268.51 L550.88,268.43 L555.25,268.36 L559.62,268.29 L563.98,268.21 L568.36,268.14 L572.74,268.06 L577.14,267.97 L581.56,267.87 L586.00,267.76 L590.48,267.64 L595.00,267.50 L599.61,267.34 L604.33,267.14 L609.13,266.93 L613.99,266.71 L618.87,266.47 L623.74,266.23 L628.57,265.99 L633.33,265.76 L637.98,265.54 L642.50,265.33 L646.85,265.15 L651.00,265.00 L654.98,264.87 L658.84,264.75 L662.58,264.65 L666.21,264.56 L669.73,264.49 L673.16,264.42 L676.50,264.36 L679.75,264.31 L682.92,264.28 L686.01,264.24 L689.04,264.22 L692.00,264.20 L694.91,264.19 L697.77,264.18 L700.57,264.18 L703.30,264.19 L705.95,264.21 L708.51,264.23 L710.96,264.27 L713.31,264.31 L715.54,264.37 L717.64,264.43 L719.59,264.51 L721.40,264.60 L723.02,264.70 L724.43,264.82 L725.66,264.95 L726.75,265.09 L727.72,265.23 L728.59,265.39 L729.41,265.56 L730.18,265.74 L730.95,265.92 L731.74,266.11 L732.58,266.30 L733.50,266.50 L734.46,266.70 L735.42,266.89 L736.37,267.09 L737.31,267.29 L738.24,267.50 L739.17,267.71 L740.09,267.94 L741.00,268.19 L741.91,268.45 L742.81,268.74 L743.71,269.06 L744.60,269.40 L745.49,269.77 L746.38,270.17 L747.27,270.59 L748.16,271.03 L749.05,271.50 L749.92,271.97 L750.78,272.47 L751.63,272.98 L752.45,273.50 L753.26,274.02 L754.04,274.56 L754.80,275.10 L755.54,275.67 L756.28,276.28 L757.02,276.93 L757.74,277.60 L758.44,278.29 L759.12,278.97 L759.77,279.64 L760.39,280.29 L760.96,280.90 L761.49,281.46 L761.97,281.97 L762.40,282.40 L762.76,282.76 L763.05,283.06 L763.28,283.31 L763.46,283.51 L763.60,283.68 L763.71,283.82 L763.80,283.94 L763.88,284.06 L763.96,284.17 L764.05,284.29 L764.16,284.43 L764.30,284.60" fill="none" stroke="#0000ff" stroke-width="3.0" stroke-dasharray="2.7,3.08"/>
<path d="M542.10,383.50 L544.43,383.49 L546.78,383.49 L549.14,383.49 L551.51,383.49 L553.87,383.48 L556.23,383.48 L558.58,383.48 L560.91,383.47 L563.23,383.46 L565.52,383.45 L567.78,383.43 L570.00,383.40 L572.15,383.37 L574.21,383.35 L576.20,383.33 L578.14,383.31 L580.07,383.28 L581.99,383.25 L583.95,383.21 L585.96,383.16 L588.04,383.10 L590.23,383.02 L592.54,382.92 L595.00,382.80 L597.67,382.66 L600.55,382.49 L603.60,382.30 L606.78,382.09 L610.03,381.87 L613.31,381.64 L616.58,381.41 L619.78,381.17 L622.87,380.94 L625.80,380.72 L628.53,380.50 L631.00,380.30 L633.12,380.13 L634.85,379.99 L636.30,379.87 L637.56,379.76 L638.70,379.65 L639.81,379.54 L641.00,379.42 L642.33,379.26 L643.91,379.07 L645.83,378.84 L648.16,378.55 L651.00,378.20 L654.49,377.76 L658.62,377.23 L663.25,376.63 L668.26,375.97 L673.51,375.28 L678.88,374.57 L684.22,373.86 L689.41,373.17 L694.31,372.53 L698.80,371.93 L702.74,371.42 L706.00,371.00 L708.58,370.68 L710.61,370.43 L712.20,370.25 L713.41,370.12 L714.33,370.03 L715.06,369.96 L715.68,369.91 L716.26,369.86 L716.90,369.80 L717.68,369.71 L718.68,369.58 L720.00,369.40 L721.58,369.17 L723.30,368.92 L725.14,368.64 L727.06,368.34 L729.04,368.03 L731.04,367.71 L733.04,367.39 L735.01,367.08 L736.92,366.78 L738.74,366.49 L740.44,366.23 L742.00,366.00 L743.43,365.79 L744.78,365.59 L746.06,365.41 L747.27,365.24 L748.42,365.08 L749.52,364.93 L750.57,364.78 L751.59,364.65 L752.57,364.53 L753.53,364.41 L754.47,364.30 L755.40,364.20 L756.30,364.11 L757.14,364.03 L757.94,363.97 L758.70,363.91 L759.43,363.86 L760.13,363.83 L760.82,363.79 L761.50,363.76 L762.18,363.72 L762.87,363.69 L763.57,363.65 L764.30,363.60" fill="none" stroke="#ff0000" stroke-width="3.0" stroke-dasharray="5,1.94"/>
<path d="M127.0,27.65H789.0V506.9H127.0ZM259.40,506.9v-7 M259.40,27.65v7M391.80,506.9v-7 M391.80,27.65v7M524.20,506.9v-7 M524.20,27.65v7M656.60,506.9v-7 M656.60,27.65v7M127.0,474.95h7 M789.0,474.95h-7M127.0,411.05h7 M789.0,411.05h-7M127.0,347.15h7 M789.0,347.15h-7M127.0,283.25h7 M789.0,283.25h-7M127.0,219.35h7 M789.0,219.35h-7M127.0,155.45h7 M789.0,155.45h-7M127.0,91.55h7 M789.0,91.55h-7" fill="none" stroke="#000" stroke-width="1.75" stroke-linejoin="miter"/>
<path d="M542.1,260.0H764.3V425.5H542.1ZM653.20,425.5v-7 M653.20,260.0v7M542.1,370.33h7 M764.3,370.33h-7M542.1,315.17h7 M764.3,315.17h-7" fill="none" stroke="#000" stroke-width="1.75" stroke-linejoin="miter"/>
<text transform="translate(112.70,483.05) rotate(0.03) scale(1,1.045)" text-anchor="end">0.06</text>
<text transform="translate(112.70,419.15) rotate(0.03) scale(1,1.045)" text-anchor="end">0.08</text>
<text transform="translate(112.70,355.25) rotate(0.03) scale(1,1.045)" text-anchor="end">0.1</text>
<text transform="translate(112.70,291.35) rotate(0.03) scale(1,1.045)" text-anchor="end">0.12</text>
<text transform="translate(112.70,227.45) rotate(0.03) scale(1,1.045)" text-anchor="end">0.14</text>
<text transform="translate(112.70,163.55) rotate(0.03) scale(1,1.045)" text-anchor="end">0.16</text>
<text transform="translate(112.70,99.65) rotate(0.03) scale(1,1.045)" text-anchor="end">0.18</text>
<text transform="translate(112.70,35.75) rotate(0.03) scale(1,1.045)" text-anchor="end">0.2</text>
<text transform="translate(129.70,538.35) rotate(0.03) scale(1,1.045)" text-anchor="middle">0</text>
<text transform="translate(262.10,538.35) rotate(0.03) scale(1,1.045)" text-anchor="middle">0.2</text>
<text transform="translate(394.50,538.35) rotate(0.03) scale(1,1.045)" text-anchor="middle">0.4</text>
<text transform="translate(526.90,538.35) rotate(0.03) scale(1,1.045)" text-anchor="middle">0.6</text>
<text transform="translate(659.30,538.35) rotate(0.03) scale(1,1.045)" text-anchor="middle">0.8</text>
<text transform="translate(791.70,538.35) rotate(0.03) scale(1,1.045)" text-anchor="middle">1</text>
<text transform="translate(527.50,433.60) rotate(0.03) scale(1,1.045)" text-anchor="end" font-size="22.9">0.05</text>
<text transform="translate(527.50,378.43) rotate(0.03) scale(1,1.045)" text-anchor="end" font-size="22.9">0.1</text>
<text transform="translate(527.50,323.27) rotate(0.03) scale(1,1.045)" text-anchor="end" font-size="22.9">0.15</text>
<text transform="translate(527.50,268.10) rotate(0.03) scale(1,1.045)" text-anchor="end" font-size="22.9">0.2</text>
<text transform="translate(544.90,457.00) rotate(0.03) scale(1,1.045)" text-anchor="middle" font-size="22.9">0</text>
<text transform="translate(656.00,457.00) rotate(0.03) scale(1,1.045)" text-anchor="middle" font-size="22.9">0.5</text>
<text transform="translate(767.10,457.00) rotate(0.03) scale(1,1.045)" text-anchor="middle" font-size="22.9">1</text>
<g transform="translate(452.30,572.70)" fill="none" stroke="#000" stroke-linecap="round" stroke-linejoin="round"><path d="M0.0,-7.3C0.5,-8.9 1.3,-10.4 2.7,-10.45" stroke-width="0.7"/><path d="M2.7,-10.45C4.5,-10.6 4.6,-9.5 4.25,-8.2L3.35,-4.5C2.9,-2.6 3.3,-0.25 5.3,-0.25C7.6,-0.25 10.45,-5 10.45,-8.4" stroke-width="0.8"/><path d="M4.1,-8.9L3.2,-4.7C2.9,-3.1 3.1,-1.7 3.9,-1.0" stroke-width="1.45"/><ellipse cx="9.6" cy="-9.15" rx="0.85" ry="1.35" transform="rotate(-18 9.6 -9.15)" fill="#000" stroke="none"/></g>
<text transform="translate(653.20,492.00)" text-anchor="middle" font-style="italic">q</text>
<text transform="translate(26.00,285.50) rotate(-90.03) scale(1.11,1.045)" font-style="italic">MΛ</text>
<text transform="translate(442.00,360.60) rotate(-90.03) scale(1.11,1.045)" font-style="italic">MΛ</text>
<g transform="translate(675.10,287.60)" fill="none" stroke="#0000ff" stroke-linecap="round" stroke-linejoin="round"><path d="M0.0,-7.3C0.5,-8.9 1.3,-10.4 2.7,-10.45" stroke-width="0.7"/><path d="M2.7,-10.45C4.5,-10.6 4.6,-9.5 4.25,-8.2L3.35,-4.5C2.9,-2.6 3.3,-0.25 5.3,-0.25C7.6,-0.25 10.45,-5 10.45,-8.4" stroke-width="0.8"/><path d="M4.1,-8.9L3.2,-4.7C2.9,-3.1 3.1,-1.7 3.9,-1.0" stroke-width="1.45"/><ellipse cx="9.6" cy="-9.15" rx="0.85" ry="1.35" transform="rotate(-18 9.6 -9.15)" fill="#0000ff" stroke="none"/></g>
<path d="M692.20,280.40H704.30M692.20,284.30H704.30" stroke="#0000ff" stroke-width="1.3" fill="none"/>
<text transform="translate(716.40,288.00) rotate(0.03) scale(1,1.045)" text-anchor="middle" fill="#0000ff">1</text>
<g transform="translate(675.40,398.90)" fill="none" stroke="#ff0000" stroke-linecap="round" stroke-linejoin="round"><path d="M0.0,-7.3C0.5,-8.9 1.3,-10.4 2.7,-10.45" stroke-width="0.7"/><path d="M2.7,-10.45C4.5,-10.6 4.6,-9.5 4.25,-8.2L3.35,-4.5C2.9,-2.6 3.3,-0.25 5.3,-0.25C7.6,-0.25 10.45,-5 10.45,-8.4" stroke-width="0.8"/><path d="M4.1,-8.9L3.2,-4.7C2.9,-3.1 3.1,-1.7 3.9,-1.0" stroke-width="1.45"/><ellipse cx="9.6" cy="-9.15" rx="0.85" ry="1.35" transform="rotate(-18 9.6 -9.15)" fill="#ff0000" stroke="none"/></g>
<path d="M692.9,393.6H698.7" stroke="#ff0000" stroke-width="1.4" fill="none"/>
<path d="M700.3,388.0L711.6,393.3L700.3,398.6" stroke="#ff0000" stroke-width="1.3" fill="none" stroke-linejoin="miter"/>
<text transform="translate(724.30,399.30) rotate(0.03) scale(1,1.045)" text-anchor="middle" fill="#ff0000">0</text>
<text transform="translate(251.70,54.30) rotate(0.03) scale(1,1.045)" text-anchor="end">0.0</text>
<path d="M204.60,46.12H216.20M204.60,50.80H216.20" stroke="#000" stroke-width="1.45" fill="none"/>
<text transform="translate(193.00,53.90)" text-anchor="middle" font-style="italic">q</text>
<path d="M265,46.30H328" fill="none" stroke="#000000" stroke-width="3.0"/>
<text transform="translate(251.70,77.38) rotate(0.03) scale(1,1.045)" text-anchor="end">0.4</text>
<path d="M204.60,69.20H216.20M204.60,73.88H216.20" stroke="#000" stroke-width="1.45" fill="none"/>
<text transform="translate(193.00,76.98)" text-anchor="middle" font-style="italic">q</text>
<path d="M265,69.38H328" fill="none" stroke="#ff0000" stroke-width="3.0" stroke-dasharray="5,1.94"/>
<text transform="translate(251.70,100.46) rotate(0.03) scale(1,1.045)" text-anchor="end">0.8</text>
<path d="M204.60,92.28H216.20M204.60,96.96H216.20" stroke="#000" stroke-width="1.45" fill="none"/>
<text transform="translate(193.00,100.06)" text-anchor="middle" font-style="italic">q</text>
<path d="M265,92.46H328" fill="none" stroke="#0000ff" stroke-width="3.0" stroke-dasharray="2.7,3.08"/>
<text transform="translate(251.70,123.54) rotate(0.03) scale(1,1.045)" text-anchor="end">0.9</text>
<path d="M204.60,115.36H216.20M204.60,120.04H216.20" stroke="#000" stroke-width="1.45" fill="none"/>
<text transform="translate(193.00,123.14)" text-anchor="middle" font-style="italic">q</text>
<path d="M265,115.54H328" fill="none" stroke="#006400" stroke-width="3.0" stroke-dasharray="1.45,1.44"/>
<text transform="translate(251.70,146.62) rotate(0.03) scale(1,1.045)" text-anchor="end">0.96</text>
<path d="M192.90,138.44H204.50M192.90,143.12H204.50" stroke="#000" stroke-width="1.45" fill="none"/>
<text transform="translate(181.30,146.22)" text-anchor="middle" font-style="italic">q</text>
<path d="M265,138.62H328" fill="none" stroke="#a52a2a" stroke-width="3.0" stroke-dasharray="7,2.2,1.4,2.2"/>
<text transform="translate(251.70,169.70) rotate(0.03) scale(1,1.045)" text-anchor="end">1.0</text>
<path d="M204.60,161.52H216.20M204.60,166.20H216.20" stroke="#000" stroke-width="1.45" fill="none"/>
<text transform="translate(193.00,169.30)" text-anchor="middle" font-style="italic">q</text>
<path d="M265,161.70H328" fill="none" stroke="#ff00ff" stroke-width="3.0" stroke-dasharray="4,3.1,1.4,3.07"/>
</g></svg>
</div>
</body></html>
